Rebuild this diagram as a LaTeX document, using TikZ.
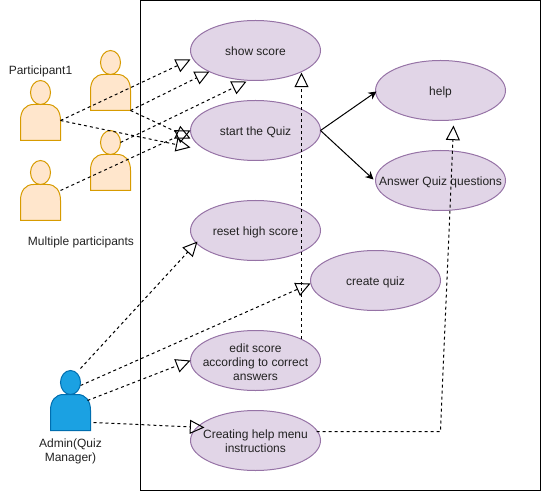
\documentclass[tikz,border=0pt]{standalone}
\usepackage{fontspec}
\setmainfont{Liberation Sans}
\usetikzlibrary{positioning,arrows.meta,calc,shapes.geometric}
\definecolor{usecasef}{HTML}{E1D5E7}
\definecolor{usecased}{HTML}{9673A6}
\definecolor{partf}{HTML}{FFE6CC}
\definecolor{partd}{HTML}{D79B00}
\definecolor{adminf}{HTML}{1BA1E2}
\definecolor{admind}{HTML}{006EAF}
\definecolor{txt}{HTML}{222222}
\tikzset{
  usecase/.style={ellipse, draw=usecased, fill=usecasef, line width=0.75pt, outer sep=0pt,
    inner xsep=-30pt, inner ysep=-16pt, minimum width=97.5pt, minimum height=45pt,
    font=\fontsize{9}{10.5}\selectfont, text=txt, align=center},
  oneline/.style={text height=9pt, text depth=2pt},
  lbl/.style={font=\fontsize{9}{10.5}\selectfont, text=txt, align=center},
  sysbox/.style={draw=black, line width=0.75pt, minimum width=300pt, minimum height=367.5pt, outer sep=0pt},
  actorbox/.style={minimum width=30pt, minimum height=45pt, inner sep=0pt, outer sep=0pt},
  dep/.style={draw=black, line width=0.75pt, dash pattern=on 2.25pt off 2.25pt,
    -{Triangle[open,length=11pt,width=10.5pt,line width=0.75pt]}},
  call/.style={draw=black, line width=0.75pt, -{Stealth[length=6pt,width=6pt]}},
}
% head and body of one person, drawn inside a named box
\newcommand{\actorman}[3]{%
  \node[actorbox] (#1) at (#2) {};
  \filldraw[fill=#3f, draw=#3d, line width=0.75pt]
    ($(#1.north west)+(0,60)$) -- ($(#1.north west)+(0,40)$)
    .. controls ($(#1.north west)+(0,30)$) and ($(#1.north west)+(5,24)$) .. ($(#1.north west)+(13,24)$)
    -- ($(#1.north west)+(27,24)$)
    .. controls ($(#1.north west)+(35,24)$) and ($(#1.north west)+(40,30)$) .. ($(#1.north west)+(40,40)$)
    -- ($(#1.north west)+(40,60)$) -- cycle;
  \filldraw[fill=#3f, draw=#3d, line width=0.75pt]
    ($(#1.north)+(0,12)$) ellipse [x radius=7.5pt, y radius=9pt];
}

\begin{document}
\begin{tikzpicture}[x=0.75pt,y=-0.75pt]
\useasboundingbox (0,0) rectangle (541,491);

% ------------------------------------------------- system
\node[sysbox] (system) at (340.5,245.5) {};

% ------------------------------------------------- use cases
\node[usecase, oneline] (show) at (255.5,50.5) {show score};
\node[usecase, oneline] (start) at (255.5,130.5) {start the Quiz};
\node[usecase, oneline] (reset) at (255.5,230.5) {reset high score};
\node[usecase, oneline] (create) at (375.5,280.5) {create quiz};
\node[usecase] (edit) at (255.5,360.5) {\rule{0pt}{8.5pt}edit score\\according to correct\\answers};
\node[usecase] (helpmenu) at (255.5,440.5) {\rule{0pt}{8pt}Creating help menu\\instructions};
\node[usecase, oneline] (help) at (440.5,90.5) {help};
\node[usecase, oneline] (answer) at (440.5,180.5) {Answer Quiz questions};

% ------------------------------------------------- actors
\actorman{partone}{40.5,110.5}{part}
\actorman{parttwo}{110.5,80.5}{part}
\actorman{partthree}{110.5,160.5}{part}
\actorman{partfour}{40.5,190.5}{part}
\actorman{admin}{70.5,400.5}{admin}

\node[lbl] (partlbl) at (40.5,71.5) {Participant1};
\node[lbl] (multilbl) at (81,242) {Multiple participants};
\node[lbl] (adminlbl) at (70.5,451) {Admin(Quiz\\Manager)};

% ------------------------------------------------- participants
\draw[dep] ($(partone.east)+(0,10)$) -- ($(show.west)+(0,9)$);
\draw[dep] ($(partone.east)+(0,10)$) -- ($(start.west)+(0,17)$);
\draw[dep] (parttwo.south east) -- ($(show.south)+(-46,-9)$);
\draw[dep] (parttwo.south east) -- ($(start.west)+(0,8)$);
\draw[dep] ($(partthree.north east)+(-10,12)$) -- ($(show.south)+(-9,1)$);
\draw[dep] (partfour.east) -- (start.west);

% ------------------------------------------------- admin
\draw[dep] ($(admin.north)+(10,-2)$) -- ($(reset.west)+(7,11)$);
\draw[dep] ($(admin.north)+(10,15)$) -- ($(create.west)+(0,3)$);
\draw[dep] ($(admin.east)+(-3,0)$) -- (edit.west);
\draw[dep] ($(admin.east)+(3,22)$) -- ($(helpmenu.west)+(14,-13)$);

% ------------------------------------------------- between use cases
\draw[dep] ($(edit.north)+(46,8)$) -- ($(show.south)+(46,-8)$);
\draw[dep] ($(helpmenu.east)+(-4,-9)$) -- ($(help.south)+(0,311)$) -- ($(help.south)+(13,5)$);
\draw[call] (start.east) -- ($(help.west)+(1,1)$);
\draw[call] (start.east) -- ($(answer.west)+(-2,-1)$);

\end{tikzpicture}
\end{document}
